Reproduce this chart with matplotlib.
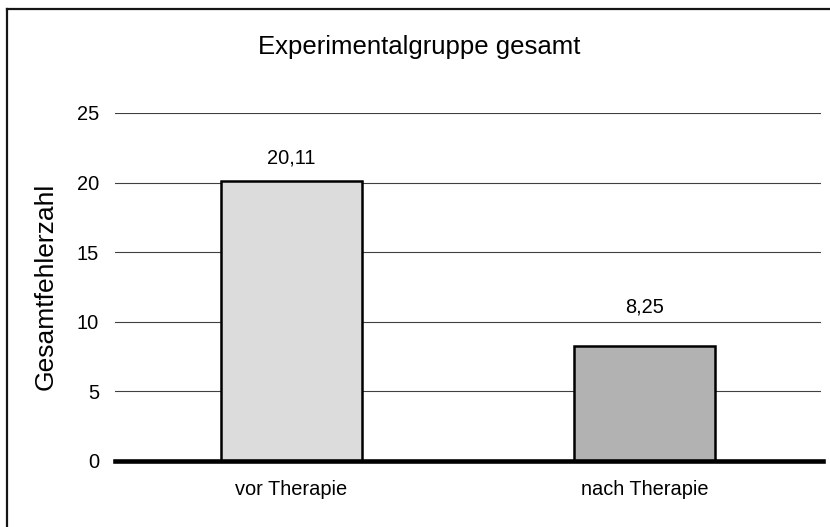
import numpy as np
import matplotlib.pyplot as plt
from matplotlib.lines import Line2D

plt.rcParams["font.family"] = ["Liberation Sans", "DejaVu Sans"]

categories = ["vor Therapie", "nach Therapie"]
values = [20.11, 8.25]
value_labels = ["20,11", "8,25"]
bar_colors = ["#dcdcdc", "#b2b2b2"]
yticks = [0, 5, 10, 15, 20, 25]
label_offsets = [13, 24.5]  # points above bar top, as placed in the original

fig = plt.figure(figsize=(8.3, 5.27), dpi=100)
ax = fig.add_axes([115 / 830, 1 - 461 / 527, (821 - 115) / 830, (461 - 113) / 527])

x = np.arange(len(categories))
bars = ax.bar(x, values, width=0.4, color=bar_colors, edgecolor="black", linewidth=1.8, zorder=3)

for b, lab, off in zip(bars, value_labels, label_offsets):
    ax.annotate(lab, (b.get_x() + b.get_width() / 2, b.get_height()),
                xytext=(0, off), textcoords="offset points",
                ha="center", va="baseline", fontsize=14.4)

ax.set_xlim(-0.5, 1.5)
ax.set_ylim(0, 25)
ax.set_yticks(yticks)
ax.set_yticklabels([str(t) for t in yticks], fontsize=14.4)
ax.set_xticks(x)
ax.set_xticklabels(categories, fontsize=14.4)
ax.tick_params(axis="y", length=0, pad=11.5)
ax.tick_params(axis="x", length=0, pad=13.5)

ax.grid(axis="y", color="#404040", linewidth=0.8, zorder=1)
ax.set_axisbelow(True)
for s in ["top", "right", "left"]:
    ax.spines[s].set_visible(False)
ax.spines["bottom"].set_linewidth(3.3)
ax.spines["bottom"].set_zorder(4)
ax.spines["bottom"].set_bounds(-0.5, 1.505)
ax.spines["bottom"].set_clip_on(False)

fig.text(419 / 830, 1 - 54 / 527, "Experimentalgruppe gesamt", ha="center", va="baseline", fontsize=18.5)
fig.text(46 / 830, 1 - 286 / 527, "Gesamtfehlerzahl", rotation=90, ha="center", va="center", fontsize=19)

# chart area frame (only top and left visible)
fig.add_artist(Line2D([7 / 830, 7 / 830], [0, 1 - 8.5 / 527], transform=fig.transFigure, color="#151515", linewidth=1.6))
fig.add_artist(Line2D([7 / 830, 1], [1 - 8.5 / 527, 1 - 8.5 / 527], transform=fig.transFigure, color="#151515", linewidth=1.6))

fig.savefig("out.png", dpi=100)
